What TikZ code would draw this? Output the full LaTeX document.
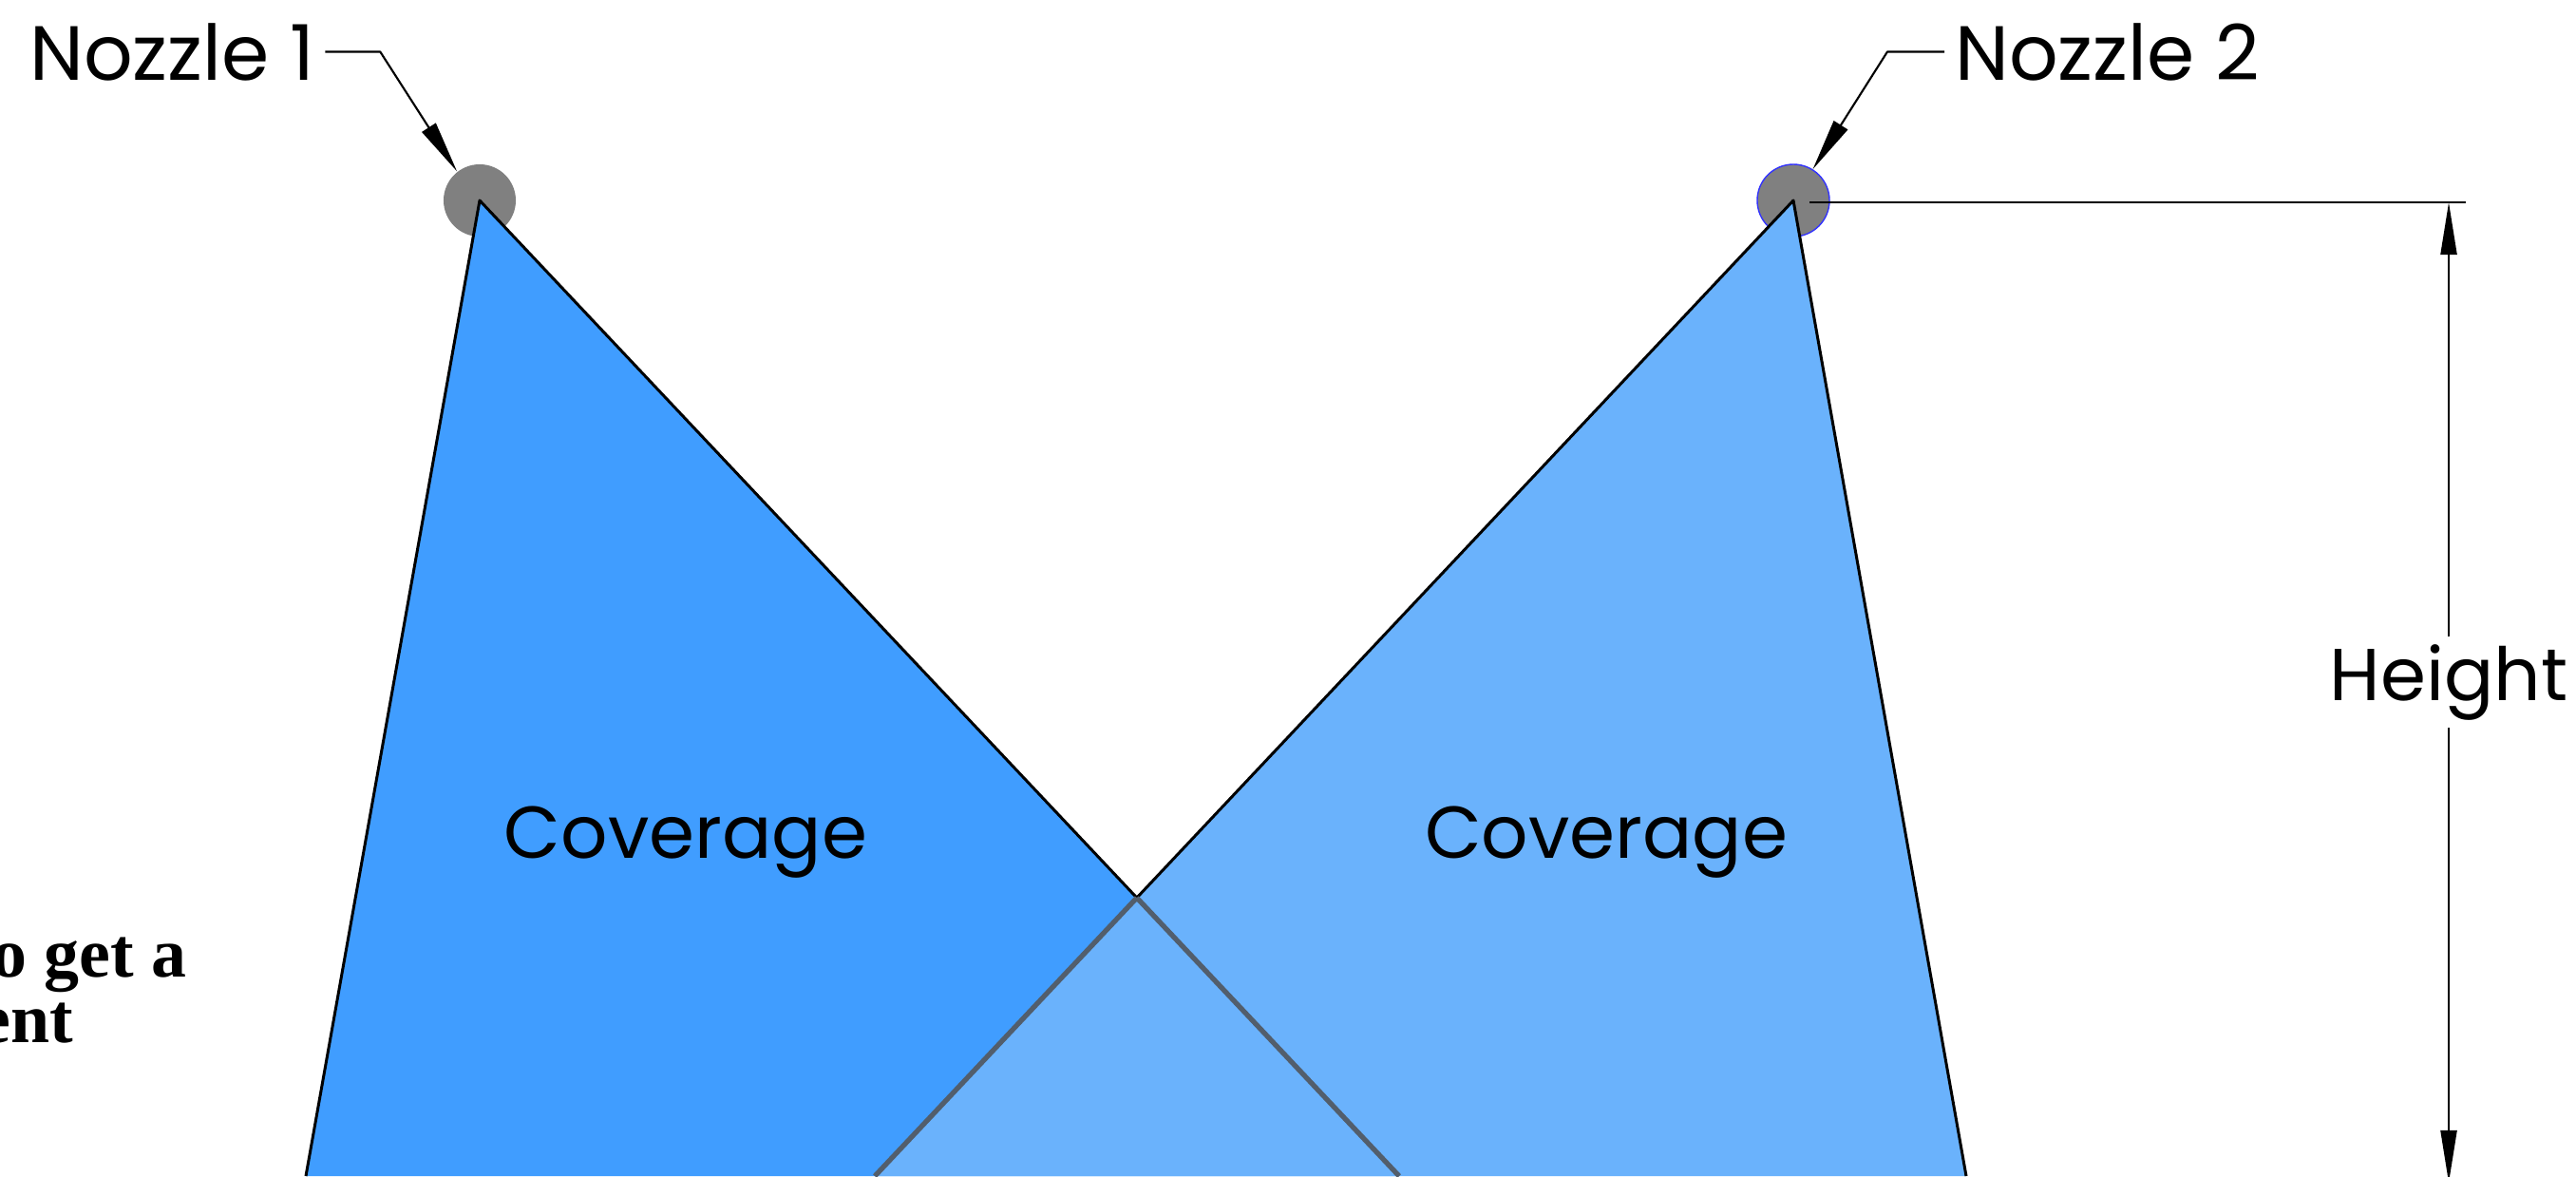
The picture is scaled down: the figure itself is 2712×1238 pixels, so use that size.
\documentclass[tikz,border=0pt]{standalone}
\usepackage{fontspec}
\setmainfont{Poppins}
\newfontfamily\pagefont{Liberation Serif}
\usetikzlibrary{arrows.meta}
\definecolor{sprayA}{RGB}{64,157,255}
\definecolor{sprayB}{RGB}{106,178,252}
\definecolor{seam}{RGB}{82,94,108}
\definecolor{nozgray}{RGB}{128,128,128}

\begin{document}
\begin{tikzpicture}[x=0.01cm, y=-0.01cm, line join=round,
        nozzle/.style={circle, fill=nozgray, minimum size=0.76cm, inner sep=0pt},
        edge/.style={line width=0.85pt, black},
        seamline/.style={line width=1.5pt, seam},
        tip/.style={-{Triangle[length=0.55cm, width=0.17cm]}},
        leader/.style={line width=0.6pt, tip},
        dim/.style={line width=0.6pt},
        lbl/.style={font=\fontsize{22}{26}\selectfont, inner sep=3pt},
        pagetext/.style={font=\pagefont\bfseries\fontsize{21}{25}\selectfont, inner sep=0pt, anchor=base east}]
    \useasboundingbox (0,0) rectangle (2712,1238);

    \coordinate (n1) at (505,211);
    \coordinate (n2) at (1888,211);
    \coordinate (l1) at (322,1238);
    \coordinate (r1) at (1473,1238);
    \coordinate (l2) at (921,1238);
    \coordinate (r2) at (2070,1238);
    \coordinate (x) at (intersection of n1--r1 and n2--l2);

    \node[nozzle] (noz1) at (n1) {};
    \node[nozzle, draw=blue!80, line width=0.4pt] (noz2) at (n2) {};

    % spray cones
    \fill[sprayA] (n1) -- (l1) -- (r1) -- cycle;
    \fill[sprayB] (n2) -- (l2) -- (r2) -- cycle;
    \draw[edge] (l1) -- (n1) -- (x) -- (n2) -- (r2);
    \draw[seamline] (x) -- (r1);
    \draw[seamline] (x) -- (l2);

    \node[lbl] (cov1) at (722,887) {Coverage};
    \node[lbl] (cov2) at (1691,887) {Coverage};

    % callouts
    \node[lbl, font=\fontsize{23}{27}\selectfont, anchor=base west] (lab1) at (20,84) {Nozzle 1};
    \node[lbl, font=\fontsize{23}{27}\selectfont, anchor=base west] (lab2) at (2047,84) {Nozzle 2};
    \draw[leader] (lab1.east) -- ++(58,0) -- (noz1.128);
    \draw[leader] (lab2.west) -- ++(-60,0) -- (noz2.58);

    % height dimension
    \coordinate (ext0) at (1905,213);
    \coordinate (ext1) at (2596,213);
    \coordinate (hT) at (2578,213);
    \coordinate (hB) at (2578,1245);
    \draw[dim] (ext0) -- (ext1);
    \node[lbl, inner sep=2pt] (hgt) at (2578,718) {Height};
    \draw[dim, tip] (hgt) -- (hT);
    \draw[dim, tip] (hgt) -- (hB);

    \node[pagetext] (txt1) at (197,1028) {o get a};
    \node[pagetext] (txt2) at (78,1097) {ent};
\end{tikzpicture}
\end{document}
